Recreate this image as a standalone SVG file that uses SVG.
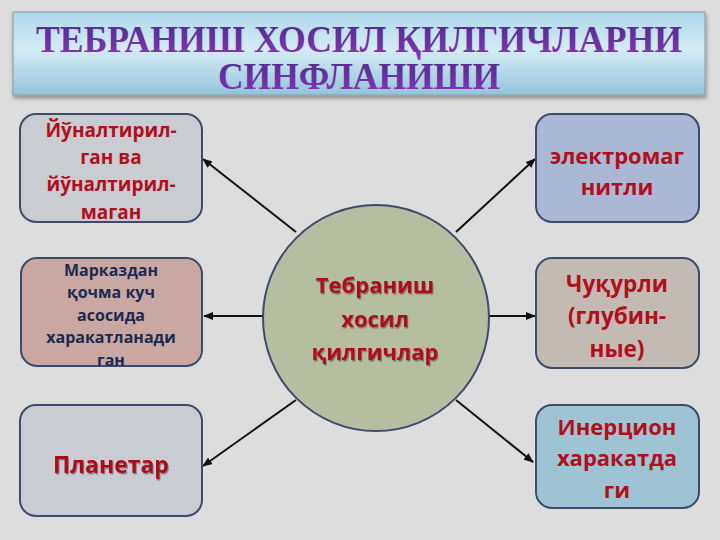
<svg xmlns="http://www.w3.org/2000/svg" width="720" height="540" viewBox="0 0 720 540">
<defs>
<linearGradient id="tg" x1="0" y1="0" x2="0" y2="1">
<stop offset="0" stop-color="#aed8ec"/>
<stop offset="0.45" stop-color="#d4ecf4"/>
<stop offset="1" stop-color="#94c4da"/>
</linearGradient>
<linearGradient id="txg" x1="0" y1="0" x2="0" y2="1">
<stop offset="0" stop-color="#4a2a8c"/>
<stop offset="1" stop-color="#8a36b8"/>
</linearGradient>
<filter id="sh" x="-10%" y="-10%" width="120%" height="140%">
<feDropShadow dx="1" dy="3" stdDeviation="2" flood-color="#000" flood-opacity="0.35"/>
</filter>
<filter id="tsh" x="-10%" y="-10%" width="120%" height="140%">
<feDropShadow dx="1" dy="1.5" stdDeviation="0.6" flood-color="#000" flood-opacity="0.35"/>
</filter>
<marker id="ah" markerWidth="10" markerHeight="8" refX="9" refY="4" orient="auto" markerUnits="userSpaceOnUse">
<path d="M0,0 L10,4 L0,8 z" fill="#111"/>
</marker>
</defs>
<style>
.box{stroke:#3e4c6c;stroke-width:2}
.t{font-family:"Open Sans","Noto Sans","Liberation Sans",sans-serif;font-weight:bold;text-anchor:middle}
.red{fill:#b0101c}
.navy{fill:#1c2a52}
.conn line{stroke:#111;stroke-width:2;marker-end:url(#ah)}
</style>
<rect x="0" y="0" width="720" height="540" fill="#dddddd"/>
<g id="title">
<rect x="13" y="12" width="692" height="83" fill="url(#tg)" stroke="#8a9aa4" stroke-width="1" filter="url(#sh)"/>
<text x="359" y="52" font-family="'Liberation Serif',serif" font-weight="bold" font-size="37" fill="url(#txg)" text-anchor="middle" textLength="646" lengthAdjust="spacingAndGlyphs">ТЕБРАНИШ ХОСИЛ ҚИЛГИЧЛАРНИ</text>
<text x="359" y="89" font-family="'Liberation Serif',serif" font-weight="bold" font-size="37" fill="url(#txg)" text-anchor="middle" textLength="282" lengthAdjust="spacingAndGlyphs">СИНФЛАНИШИ</text>
</g>
<g class="conn" id="connectors">
<line x1="296" y1="232" x2="203" y2="159"/>
<line x1="263" y1="316" x2="204" y2="316"/>
<line x1="296" y1="400" x2="203" y2="466"/>
<line x1="456" y1="232" x2="535" y2="159"/>
<line x1="489" y1="316" x2="535" y2="316"/>
<line x1="456" y1="400" x2="533" y2="462"/>
</g>
<g id="center">
<circle cx="376" cy="318" r="113" fill="#b6bea2" stroke="#3e4c6c" stroke-width="2"/>
<g class="t red" font-size="22" filter="url(#tsh)">
<text x="375" y="293">Тебраниш</text>
<text x="375" y="327">хосил</text>
<text x="375" y="360">қилгичлар</text>
</g>
</g>
<g id="n1">
<rect class="box" x="20" y="114" width="182" height="108" rx="16" fill="#c9ccd0"/>
<g class="t red" font-size="19">
<text x="111" y="137">Йўналтирил-</text>
<text x="111" y="164">ган ва</text>
<text x="111" y="191">йўналтирил-</text>
<text x="111" y="219">маган</text>
</g>
</g>
<g id="n2">
<rect class="box" x="21" y="258" width="181" height="108" rx="16" fill="#c9a7a2"/>
<g class="t navy" font-size="16">
<text x="111" y="276">Марказдан</text>
<text x="111" y="298">қочма куч</text>
<text x="111" y="321">асосида</text>
<text x="111" y="343">харакатланади</text>
<text x="111" y="366">ган</text>
</g>
</g>
<g id="n3">
<rect class="box" x="20" y="405" width="182" height="111" rx="16" fill="#c9ccd2"/>
<text class="t" x="111" y="473" font-size="23" fill="#a8101a" filter="url(#tsh)">Планетар</text>
</g>
<g id="n4">
<rect class="box" x="536" y="114" width="163" height="108" rx="16" fill="#aab8d6"/>
<g class="t red" font-size="22">
<text x="617" y="164">электромаг</text>
<text x="617" y="195">нитли</text>
</g>
</g>
<g id="n5">
<rect class="box" x="536" y="258" width="163" height="110" rx="16" fill="#c3bbb3"/>
<g class="t red" font-size="22.5">
<text x="617" y="292">Чуқурли</text>
<text x="617" y="324">(глубин-</text>
<text x="617" y="357">ные)</text>
</g>
</g>
<g id="n6">
<rect class="box" x="536" y="405" width="163" height="103" rx="16" fill="#9ec4d4"/>
<g class="t red" font-size="22">
<text x="617" y="435">Инерцион</text>
<text x="617" y="466">харакатда</text>
<text x="617" y="498">ги</text>
</g>
</g>
</svg>
